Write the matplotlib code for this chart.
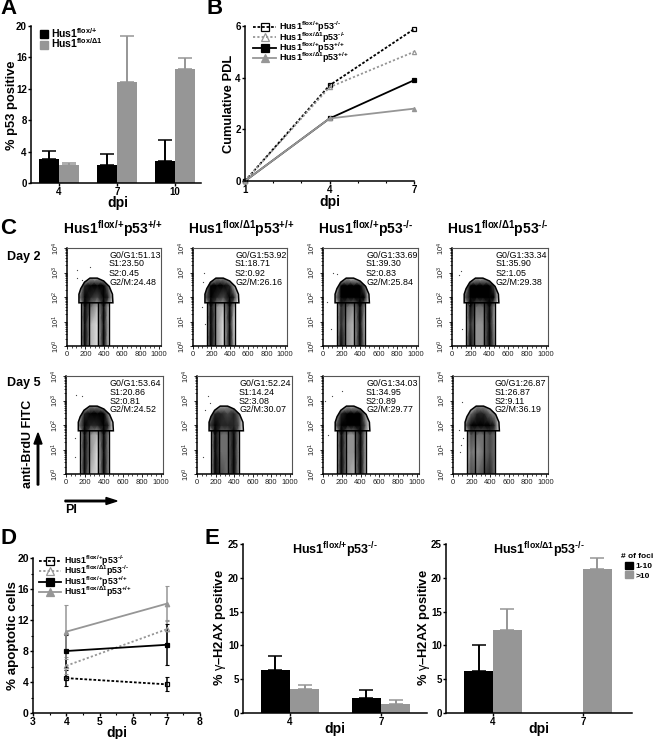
import numpy as np
import matplotlib
matplotlib.use('Agg')
import matplotlib.pyplot as plt
from matplotlib.patches import Patch, Polygon
from matplotlib.path import Path
from matplotlib.ticker import FixedLocator, NullFormatter

plt.rcParams['font.family'] = ['Liberation Sans', 'DejaVu Sans']
plt.rcParams['mathtext.fontset'] = 'custom'
plt.rcParams['mathtext.rm'] = 'Liberation Sans'
plt.rcParams['mathtext.it'] = 'Liberation Sans:italic'
plt.rcParams['mathtext.bf'] = 'Liberation Sans:bold'
plt.rcParams['axes.linewidth'] = 1.1

W, H = 656, 739
BLACK = '#000000'
GRAY = '#969696'

######################### data #########################
# panel A
a_days = ['4', '7', '10']
a_het = [3.0, 2.3, 2.8]
a_het_top = [4.1, 3.7, 5.5]
a_del = [2.3, 12.9, 14.5]
a_del_top = [2.6, 18.7, 15.9]

# panel B
b_days = [1, 4, 7]
b_het_null = [0, 3.7, 5.88]
b_del_null = [0, 3.63, 5.0]
b_het_wt = [0, 2.42, 3.9]
b_del_wt = [0, 2.42, 2.8]

# panel D
d_days = [4, 7]
d_het_null = [4.5, 3.7]
d_het_null_low = [3.5, 2.8]
d_het_null_high = [5.5, 4.6]
d_del_null = [6.1, 10.8]
d_del_null_low = [5.0, 9.0]
d_del_null_high = [7.2, 12.0]
d_het_wt = [8.0, 8.8]
d_het_wt_low = [6.0, 6.2]
d_het_wt_high = [10.1, 11.5]
d_del_wt = [10.5, 14.1]
d_del_wt_low = [7.0, 11.9]
d_del_wt_high = [14.0, 16.4]

# panel E
e_days = ['4', '7']
e1_low = [6.4, 2.2]
e1_low_top = [8.4, 3.4]
e1_high = [3.5, 1.4]
e1_high_top = [4.2, 1.9]
e2_low = [6.2, 0]
e2_low_top = [10.1, 0]
e2_high = [12.3, 21.3]
e2_high_top = [15.4, 22.9]

# panel C: cell cycle numbers
stats_day2 = [['51.13', '23.50', '0.45', '24.48'],
              ['53.92', '18.71', '0.92', '26.16'],
              ['33.69', '39.30', '0.83', '25.84'],
              ['33.34', '35.90', '1.05', '29.38']]
stats_day5 = [['53.64', '20.86', '0.81', '24.52'],
              ['52.24', '14.24', '3.08', '30.07'],
              ['34.03', '34.95', '0.89', '29.77'],
              ['26.87', '26.87', '9.11', '36.19']]

# panel C: dot density read by eye, 0 empty to 9 solid, top row first
flow_pi = [130, 195, 260, 330, 400, 450, 500]
flow_brdu = [1, 8, 40, 100, 300, 620]
density_day2 = [
    ['0122210', '2699740', '3965861', '0842820', '0921820', '0921820'],
    ['0133100', '3899620', '4965760', '0932820', '0931810', '0931820'],
    ['0121100', '1799840', '3999970', '0643730', '0632720', '0732830'],
    ['0122210', '2899950', '4999980', '0744730', '0633730', '0733840'],
]
density_day5 = [
    ['0133210', '2687730', '3966860', '0932930', '0931930', '0921930'],
    ['0123310', '3665640', '5766650', '0944930', '0944930', '0954930'],
    ['0122210', '2688730', '4998950', '0833830', '0833930', '0832930'],
    ['0133220', '2466430', '4788760', '1544540', '1434540', '1545640'],
]
stray_x_day2 = [[108, 250, 110, 160], [115, 105, 100, 130], [105, 150, 40, 90], [70, 100, 110, 180]]
stray_y_day2 = [[1300, 1600, 600, 500], [1000, 400, 40, 8], [1000, 900, 60, 5], [800, 1100, 5, 50]]
stray_x_day5 = [[110, 170, 90, 100], [115, 90, 60, 140], [100, 200, 20, 50], [100, 70, 90, 110, 80]]
stray_y_day5 = [[1600, 1500, 30, 5], [1500, 400, 5, 800], [1500, 2500, 1000, 40], [900, 60, 15, 30, 8]]

# gate drawn on every dot plot
gate_x = [130, 130, 150, 190, 250, 330, 400, 460, 495, 500]
gate_y = [58, 130, 220, 400, 590, 590, 450, 270, 130, 58]
gate_strips = [152, 240, 337, 456]
gate_base = 58


def hus_label(flox, p53=None):
    text = r'Hus1^{flox/%s}' % flox
    if p53:
        text += r'p53^{%s}' % p53
    return r'$\mathbf{' + text + '}$'


HET = '{+}'
DEL = r'\Delta 1'
NULL = '\u2010/\u2010'
WT = '{+}/{+}'
flow_titles = [hus_label(HET, WT), hus_label(DEL, WT), hus_label(HET, NULL), hus_label(DEL, NULL)]


def axes_px(left, top, right, bottom):
    ax = fig.add_axes([left / W, 1 - bottom / H, (right - left) / W, (bottom - top) / H])
    ax.patch.set_alpha(0)
    return ax


def text_px(x, y, s, **kw):
    kw.setdefault('va', 'center')
    return fig.text(x / W, 1 - y / H, s, **kw)


def clean(ax, size=7):
    ax.spines['top'].set_visible(False)
    ax.spines['right'].set_visible(False)
    ax.tick_params(axis='both', which='major', length=2, width=1, labelsize=size, pad=1)
    ax.tick_params(axis='both', which='minor', length=1.2, width=0.8)
    for lab in ax.get_xticklabels() + ax.get_yticklabels():
        lab.set_fontweight('bold')


def grouped_bars(ax, centers, first, first_top, second, second_top, width):
    for vals, tops, col, off in ((first, first_top, BLACK, -width / 2), (second, second_top, GRAY, width / 2)):
        x = np.array(centers) + off
        up = np.array(tops) - np.array(vals)
        ax.bar(x, vals, width, color=col, linewidth=0)
        keep = np.array(vals) > 0
        ax.errorbar(x[keep], np.array(vals)[keep], yerr=[np.zeros(keep.sum()), up[keep]], fmt='none',
                    ecolor=col, elinewidth=1.4, capsize=5, capthick=1.1)


def line_legend(ax, handles, anchor, size):
    ax.legend(handles=handles, loc='upper left', bbox_to_anchor=anchor, frameon=False, fontsize=size,
              handlelength=2.5, handletextpad=0.35, labelspacing=-0.45, borderpad=0, borderaxespad=0,
              numpoints=1, markerscale=2)


def series_lines(ax, days, s1, s2, s3, s4, ms):
    style = [(s1, BLACK, (0, (1.5, 1)), 's', 'none', hus_label(HET, NULL)),
             (s2, GRAY, (0, (1.2, 1.2)), '^', 'none', hus_label(DEL, NULL)),
             (s3, BLACK, '-', 's', BLACK, hus_label(HET, WT)),
             (s4, GRAY, '-', '^', GRAY, hus_label(DEL, WT))]
    handles = []
    for vals, col, ls, mk, mfc, lab in style:
        line, = ax.plot(days, vals, color=col, linestyle=ls, linewidth=1.3, marker=mk, markersize=ms,
                        markerfacecolor=mfc, markeredgecolor=col, markeredgewidth=0.9, label=lab, clip_on=False)
        handles.append(line)
    return handles


def flow_plot(left, top, right, bottom, grid, stats, stray_x, stray_y, text_x, text_y):
    ax = axes_px(left, top, right, bottom)
    ax.set_yscale('log')
    ax.set_xlim(0, 1024)
    ax.set_ylim(1, 10000)
    density = np.array([[int(c) for c in row] for row in grid[::-1]])
    mesh = ax.pcolormesh(flow_pi, flow_brdu, density, cmap='gray_r', vmin=0, vmax=7, shading='gouraud')
    gate = Polygon(np.column_stack([gate_x, gate_y]), closed=True, fill=False, edgecolor=BLACK, linewidth=1.1)
    ax.add_patch(gate)
    strip_verts = [(gate_strips[0], 1), (gate_strips[0], gate_base), (gate_strips[3], gate_base), (gate_strips[3], 1), (gate_strips[0], 1)]
    dome_verts = list(zip(gate_x, gate_y)) + [(gate_x[0], gate_y[0])]
    clip = Path(strip_verts + dome_verts,
                [Path.MOVETO] + [Path.LINETO] * 3 + [Path.CLOSEPOLY] + [Path.MOVETO] + [Path.LINETO] * (len(gate_x) - 1) + [Path.CLOSEPOLY])
    mesh.set_clip_path(clip, ax.transData)
    for sx in gate_strips:
        ax.plot([sx, sx], [1, gate_base], color=BLACK, linewidth=1.0)
    ax.scatter(stray_x, stray_y, s=0.8, color='#444444', linewidths=0)
    for spine in ('top', 'right'):
        ax.spines[spine].set_color('#555555')
        ax.spines[spine].set_linewidth(0.8)
    ax.set_xticks([0, 200, 400, 600, 800, 1000])
    ax.xaxis.set_minor_locator(FixedLocator(np.arange(0, 1001, 50)))
    ax.set_yticks([1, 10, 100, 1000, 10000])
    ax.set_yticklabels(['$10^{%d}$' % i for i in range(5)], rotation=90, va='center')
    ax.yaxis.set_minor_formatter(NullFormatter())
    ax.tick_params(axis='both', which='major', length=2.5, width=0.7, labelsize=5.5, pad=1, colors='#222222')
    ax.tick_params(axis='both', which='minor', length=1.2, width=0.5)
    names = ['G0/G1', 'S1', 'S2', 'G2/M']
    for name, val, ty in zip(names, stats, text_y):
        text_px(text_x, ty, name + ':' + val, fontsize=6.4, color='#000000')


fig = plt.figure(figsize=(W / 100, H / 100), dpi=100)

######################### panel A #########################
ax = axes_px(31, 26, 201, 183)
a_pos = np.arange(len(a_days))
grouped_bars(ax, a_pos, a_het, a_het_top, a_del, a_del_top, 0.345)
ax.set_xlim(-0.48, 2.45)
ax.set_ylim(0, 20)
ax.set_xticks(a_pos)
ax.set_xticklabels(a_days)
ax.set_yticks(range(0, 21, 4))
clean(ax)
ax.legend(handles=[Patch(color=BLACK, label=hus_label(HET)), Patch(color=GRAY, label=hus_label(DEL))],
          loc='upper left', bbox_to_anchor=(0.05, 1.0), frameon=False, fontsize=7.5, handlelength=0.8,
          handleheight=0.8, handletextpad=0.35, labelspacing=-0.3, borderpad=0, borderaxespad=0)
text_px(12, 105, '% p53 positive', rotation=90, ha='center', fontsize=9.3, fontweight='bold')
text_px(118, 203, 'dpi', ha='center', fontsize=10, fontweight='bold')

######################### panel B #########################
ax = axes_px(245, 26, 414, 181)
handles = series_lines(ax, b_days, b_het_null, b_del_null, b_het_wt, b_del_wt, 3)
ax.set_xlim(1, 7)
ax.set_ylim(0, 6)
ax.set_xticks(b_days)
ax.set_xticks([2, 3, 5, 6], minor=True)
ax.set_yticks([0, 2, 4, 6])
clean(ax)
line_legend(ax, handles, (0.05, 1.04), 6.5)
text_px(229, 104, 'Cumulative PDL', rotation=90, ha='center', fontsize=9.3, fontweight='bold')
text_px(330, 202, 'dpi', ha='center', fontsize=10, fontweight='bold')

######################### panel C #########################
col_left = [[67, 193, 323, 452], [66, 197, 323, 453]]
col_right = [[161, 287, 418, 548], [163, 292, 419, 548]]
row_top = [248, 376]
row_bot = [346, 474]
text_left = [[109, 235, 366, 496], [110, 239, 366, 495]]
text_rows = [[255, 264, 274, 282], [384, 392, 401, 410]]
all_stats = [stats_day2, stats_day5]
all_grids = [density_day2, density_day5]
all_sx = [stray_x_day2, stray_x_day5]
all_sy = [stray_y_day2, stray_y_day5]
for r in range(2):
    for c in range(4):
        flow_plot(col_left[r][c], row_top[r], col_right[r][c], row_bot[r], all_grids[r][c], all_stats[r][c],
                  all_sx[r][c], all_sy[r][c], text_left[r][c], text_rows[r])

for x, title in zip([113, 241, 365, 498], flow_titles):
    text_px(x, 229, title, ha='center', fontsize=10)
text_px(7, 257, 'Day 2', fontsize=9, fontweight='bold')
text_px(7, 383, 'Day 5', fontsize=9, fontweight='bold')
text_px(28, 444, 'anti-BrdU FITC', rotation=90, ha='center', fontsize=9, fontweight='bold')
text_px(65, 510, 'PI', fontsize=9, fontweight='bold')
fig.add_artist(matplotlib.patches.FancyArrow(38 / W, 1 - 485 / H, 0, 52 / H, width=1.5 / W, head_width=8 / W,
                                             head_length=11 / H, length_includes_head=True, color=BLACK,
                                             transform=fig.transFigure))
fig.add_artist(matplotlib.patches.FancyArrow(65 / W, 1 - 501 / H, 52 / W, 0, width=1.5 / H, head_width=7 / H,
                                             head_length=11 / W, length_includes_head=True, color=BLACK,
                                             transform=fig.transFigure))

######################### panel D #########################
ax = axes_px(33, 558, 200, 713)
d_series = [(d_het_null, d_het_null_low, d_het_null_high, BLACK), (d_del_null, d_del_null_low, d_del_null_high, GRAY),
            (d_het_wt, d_het_wt_low, d_het_wt_high, BLACK), (d_del_wt, d_del_wt_low, d_del_wt_high, GRAY)]
for vals, low, high, col in d_series:
    ax.errorbar(d_days, vals, yerr=[np.array(vals) - np.array(low), np.array(high) - np.array(vals)], fmt='none',
                ecolor=col, elinewidth=1.1, capsize=1.5, capthick=0.8)
handles = series_lines(ax, d_days, d_het_null, d_del_null, d_het_wt, d_del_wt, 3.2)
ax.set_xlim(3, 8)
ax.set_ylim(0, 20)
ax.set_xticks(range(3, 9))
ax.set_xticks(np.arange(3.5, 8, 1), minor=True)
ax.set_yticks(range(0, 21, 4))
ax.set_yticks(range(2, 20, 4), minor=True)
clean(ax, 7.5)
line_legend(ax, handles, (0.035, 1.03), 6.3)
text_px(13, 636, '% apoptotic cells', rotation=90, ha='center', fontsize=9.6, fontweight='bold')
text_px(117, 733, 'dpi', ha='center', fontsize=10, fontweight='bold')

######################### panel E #########################
ax = axes_px(243, 544, 427, 713)
grouped_bars(ax, [0, 1], e1_low, e1_low_top, e1_high, e1_high_top, 0.32)
ax.set_xlim((243 - 290) / 91, (427 - 290) / 91)
ax.set_ylim(0, 25)
ax.set_xticks([0, 1])
ax.set_xticklabels(e_days)
ax.set_yticks(range(0, 26, 5))
clean(ax)
text_px(335, 550, hus_label(HET, NULL), ha='center', fontsize=9)
text_px(220, 628, r'% $\mathrm{\gamma}$–H2AX positive', rotation=90, ha='center', fontsize=9.3, fontweight='bold')
text_px(335, 729, 'dpi', ha='center', fontsize=10, fontweight='bold')

ax = axes_px(446, 544, 632, 713)
grouped_bars(ax, [0, 1], e2_low, e2_low_top, e2_high, e2_high_top, 0.32)
ax.set_xlim((446 - 493) / 90, (632 - 493) / 90)
ax.set_ylim(0, 25)
ax.set_xticks([0, 1])
ax.set_xticklabels(e_days)
ax.set_yticks(range(0, 26, 5))
clean(ax)
text_px(539, 550, hus_label(DEL, NULL), ha='center', fontsize=9)
text_px(424, 628, r'% $\mathrm{\gamma}$–H2AX positive', rotation=90, ha='center', fontsize=9.3, fontweight='bold')
text_px(539, 729, 'dpi', ha='center', fontsize=10, fontweight='bold')

text_px(621, 557, '# of foci', fontsize=6, fontweight='bold')
fig.legend(handles=[Patch(color=BLACK, label='1-10'), Patch(color=GRAY, label='>10')],
           loc='upper left', bbox_to_anchor=(625 / W, 1 - 562 / H), frameon=False,
           prop={'size': 6, 'weight': 'bold'}, handlelength=0.9, handleheight=0.9, handletextpad=0.4,
           labelspacing=0.1, borderpad=0, borderaxespad=0)

######################### panel letters #########################
for x, y, letter in [(0, 9, 'A'), (207, 9, 'B'), (0, 229, 'C'), (0, 538, 'D'), (204, 538, 'E')]:
    text_px(x, y, letter, fontsize=16, fontweight='bold')

fig.savefig('out.png', dpi=100)
plt.close(fig)
